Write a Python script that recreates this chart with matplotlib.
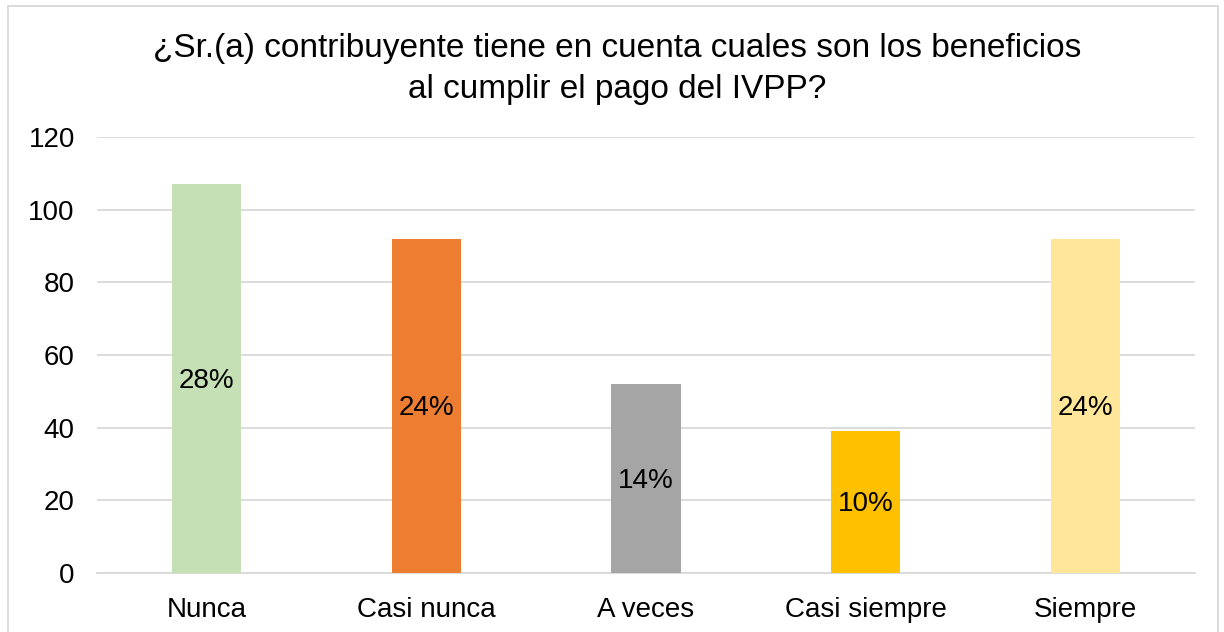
import matplotlib
matplotlib.use("Agg")
import matplotlib.pyplot as plt
from matplotlib.patches import Rectangle

categories = ["Nunca", "Casi nunca", "A veces", "Casi siempre", "Siempre"]
values = [107, 92, 52, 39, 92]
pct_labels = ["28%", "24%", "14%", "10%", "24%"]
colors = ["#C5E0B4", "#ED7D31", "#A5A5A5", "#FFC000", "#FFE699"]
yticks = [0, 20, 40, 60, 80, 100, 120]

plt.rcParams['font.family'] = ['Liberation Sans', 'DejaVu Sans']

fig = plt.figure(figsize=(12.24, 6.32), dpi=100)
ax = fig.add_axes([97/1224, 1-573/632, (1195-97)/1224, (573-137)/632])

x = list(range(len(categories)))
ax.bar(x, values, width=0.315, color=colors, zorder=3)
for xi, v, lab in zip(x, values, pct_labels):
    ax.text(xi, v/2 - 0.6, lab, ha='center', va='center', fontsize=20, color='black', zorder=4)

ax.set_xlim(-0.5, len(categories)-0.5)
ax.set_ylim(0, 120)
ax.set_yticks(yticks)
ax.set_yticklabels([str(t) for t in yticks], fontsize=20)
ax.set_xticks(x)
ax.set_xticklabels(categories, fontsize=20)
ax.tick_params(axis='y', length=0, pad=16)
ax.tick_params(axis='x', length=0, pad=17)
ax.yaxis.grid(True, color='#D9D9D9', linewidth=1.3, zorder=0)
for s in ['top', 'right', 'left']:
    ax.spines[s].set_visible(False)
ax.spines['bottom'].set_color('#D9D9D9')
ax.spines['bottom'].set_linewidth(1.3)

fig.text(617/1224, 1-69/632, "¿Sr.(a) contribuyente tiene en cuenta cuales son los beneficios\nal cumplir el pago del IVPP?",
         ha='center', va='center', fontsize=24, linespacing=1.45)

fig.patches.append(Rectangle((8/1224, -0.05), (1218-8)/1224, 1-6/632+0.05, transform=fig.transFigure,
                             fill=False, edgecolor='#D9D9D9', linewidth=1.3))

fig.savefig("out.png", dpi=100)
